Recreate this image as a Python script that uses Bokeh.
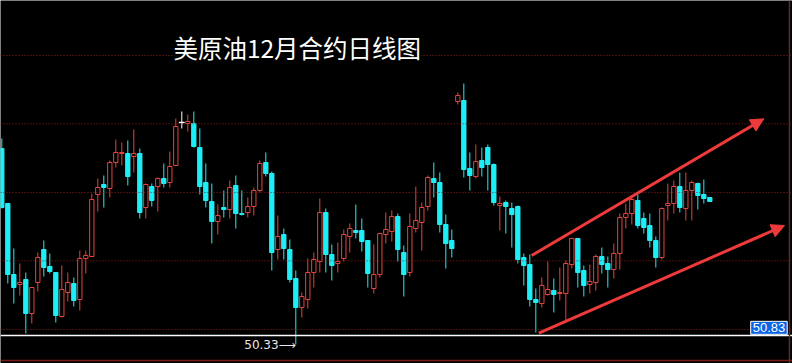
from bokeh.plotting import figure
from bokeh.models import Range1d, Span, Label, Arrow, NormalHead, ColumnDataSource
from bokeh.embed import file_html
from bokeh.resources import INLINE

# Daily OHLC of the December crude oil contract
opens = [56.21, 54.56, 52.43, 52.13, 52.28, 51.26, 52.19, 53.18, 52.67, 52.49,
         51.17, 51.89, 52.16, 51.68, 52.91, 52.97, 54.83, 55.13, 55.01, 55.79,
         56.06, 56.06, 55.97, 56.06, 54.44, 55.07, 55.07, 55.31, 55.19, 55.70,
         56.99, 56.96, 56.96, 56.24, 55.19, 54.62, 54.02, 54.44, 54.38, 55.10,
         54.26, 54.29, 54.47, 54.95, 55.79, 55.46, 53.18, 53.63, 53.18, 52.31,
         51.44, 51.68, 52.49, 52.82, 54.29, 53.03, 52.76, 52.91, 53.57, 53.75,
         53.75, 53.45, 52.01, 52.43, 53.63, 53.72, 54.17, 53.09, 52.49, 53.81,
         53.99, 54.47, 55.31, 55.19, 53.93, 53.45, 57.62, 57.65, 55.61, 55.37,
         55.85, 56.24, 55.73, 54.50, 54.59, 54.41, 54.47, 52.94, 52.73, 51.68,
         51.56, 51.83, 51.95, 51.86, 51.86, 52.73, 53.51, 52.55, 52.13, 52.19,
         52.97, 52.76, 52.58, 53.06, 54.14, 54.26, 54.65, 54.11, 53.90, 53.45,
         52.94, 54.50, 54.56, 55.07, 54.41, 54.95, 55.16, 54.83, 54.74]
highs = [56.51, 54.56, 53.21, 52.76, 52.49, 52.04, 53.09, 53.45, 53.06, 52.49,
         52.70, 52.49, 52.34, 53.15, 53.15, 54.86, 55.31, 55.40, 55.85, 56.48,
         56.39, 56.45, 56.78, 56.21, 55.16, 55.16, 55.34, 55.76, 56.12, 57.11,
         57.32, 57.23, 57.32, 56.81, 55.76, 55.16, 54.53, 54.95, 55.25, 55.40,
         54.95, 54.74, 55.04, 55.85, 56.09, 55.52, 54.20, 53.81, 53.48, 52.55,
         51.89, 52.91, 53.09, 54.71, 54.41, 53.33, 53.39, 53.78, 53.96, 54.53,
         54.11, 53.45, 53.33, 53.66, 54.29, 54.35, 54.26, 53.30, 54.26, 55.07,
         54.59, 55.40, 55.79, 55.49, 54.23, 53.78, 57.89, 58.16, 56.09, 56.33,
         56.24, 56.33, 55.76, 54.77, 54.65, 54.59, 54.50, 53.06, 53.03, 52.01,
         52.34, 52.82, 52.31, 52.64, 52.85, 53.51, 53.51, 52.70, 52.73, 53.03,
         53.24, 52.97, 53.36, 54.26, 54.56, 54.80, 54.83, 54.29, 54.26, 53.57,
         54.44, 55.16, 55.25, 55.49, 55.49, 55.25, 55.19, 55.28, 54.74]
lows = [54.41, 52.16, 51.56, 51.80, 50.66, 50.96, 51.92, 52.37, 52.46, 50.99,
        51.14, 51.62, 51.47, 51.35, 52.46, 52.97, 54.32, 54.44, 54.74, 55.64,
        55.70, 55.10, 55.49, 54.11, 54.11, 54.47, 54.32, 55.04, 55.04, 55.70,
        56.81, 56.72, 56.24, 54.83, 54.44, 53.36, 53.63, 54.14, 54.11, 53.81,
        54.20, 54.14, 54.20, 54.89, 55.37, 52.55, 52.88, 52.88, 52.19, 50.33,
        51.14, 51.41, 52.04, 52.49, 52.49, 52.25, 52.49, 52.82, 53.09, 53.51,
        53.12, 52.04, 51.86, 52.34, 53.36, 53.42, 52.82, 51.77, 52.37, 53.69,
        53.15, 54.35, 54.74, 53.69, 52.61, 52.94, 57.53, 55.34, 54.95, 55.31,
        55.37, 54.95, 54.50, 53.75, 53.66, 53.24, 52.76, 52.10, 51.47, 50.69,
        51.44, 51.80, 51.29, 51.65, 51.05, 52.61, 52.04, 51.77, 51.86, 51.95,
        52.46, 52.04, 52.31, 52.58, 53.81, 53.93, 53.81, 53.66, 53.24, 52.64,
        52.88, 54.05, 54.26, 54.29, 54.05, 54.05, 54.38, 54.56, 54.62]
closes = [54.44, 52.43, 52.04, 52.19, 51.26, 52.04, 52.94, 52.64, 52.52, 51.20,
          51.98, 52.19, 51.65, 52.91, 53.00, 54.68, 55.04, 55.04, 55.79, 56.09,
          56.09, 55.37, 56.06, 54.29, 55.13, 54.65, 55.31, 55.16, 55.67, 56.87,
          56.99, 57.02, 56.27, 55.07, 54.65, 54.02, 54.20, 54.38, 55.04, 54.26,
          54.23, 54.47, 54.95, 55.76, 55.46, 53.09, 53.57, 53.21, 52.28, 51.44,
          51.77, 52.49, 52.88, 54.29, 53.03, 52.70, 52.82, 53.63, 53.81, 53.69,
          53.42, 52.46, 52.43, 53.66, 53.78, 54.17, 53.18, 52.43, 53.87, 54.05,
          54.44, 55.34, 55.19, 53.93, 53.36, 53.21, 57.80, 55.58, 55.40, 55.82,
          55.64, 55.73, 54.59, 54.56, 54.47, 54.23, 52.88, 52.70, 51.68, 51.59,
          52.10, 51.98, 51.83, 51.89, 52.76, 53.51, 52.49, 52.10, 52.22, 52.97,
          52.73, 52.58, 53.06, 54.14, 54.26, 54.68, 53.90, 53.84, 53.45, 52.94,
          54.41, 54.56, 55.07, 54.44, 54.95, 55.19, 54.80, 54.71, 54.62]

# Horizontal reference levels and the price tag on the right edge
grid_levels = [50.78, 52.84, 54.89, 56.95, 59.00]
tag_price = 50.83

# Rising channel drawn over the last leg: (day, price) pairs
channel_upper = [(88.3, 53.00), (127.0, 57.10)]
channel_lower = [(89.5, 50.67), (130.45, 53.90)]

UP = "#e2443f"
DOWN = "#1eeef6"
FLAT = "#ffffff"
GRID = "#8f1d1d"
ARROW = "#ee3a3a"

days = list(range(len(opens)))

p = figure(width=792, height=363, output_backend="svg", toolbar_location=None,
           x_axis_location=None, y_axis_location=None,
           x_range=Range1d(-0.217, 131.78), y_range=Range1d(49.76, 60.65),
           background_fill_color="black", border_fill_color="black",
           outline_line_color=None, min_border=0)
p.grid.visible = False

for lvl in grid_levels:
    p.add_layout(Span(location=lvl, dimension="width", line_color=GRID,
                      line_width=1, line_dash="1 2"))

# frame lines
p.add_layout(Span(location=50.60, dimension="width", line_color="white", line_width=1.5))
p.add_layout(Span(location=49.85, dimension="width", line_color="#7a1c1c", line_width=1.5))
p.add_layout(Span(location=131.28, dimension="height", line_color="#5a2c2c", line_width=1.5))

def pick(cond):
    idx = [i for i in days if cond(opens[i], closes[i])]
    return ColumnDataSource(dict(
        x=[days[i] for i in idx],
        o=[opens[i] for i in idx],
        h=[highs[i] for i in idx],
        l=[lows[i] for i in idx],
        c=[closes[i] for i in idx],
    ))

up = pick(lambda o, c: c > o)
down = pick(lambda o, c: c < o)
flat = pick(lambda o, c: c == o)

# wicks
p.segment("x", "h", "x", "l", source=up, line_color=UP, line_width=1)
p.segment("x", "h", "x", "l", source=down, line_color=DOWN, line_width=1)
p.segment("x", "h", "x", "l", source=flat, line_color=FLAT, line_width=1)

# bodies: rising days hollow red, falling days solid cyan
p.vbar(x="x", width=0.72, top="c", bottom="o", source=up,
       fill_color="black", line_color=UP, line_width=1)
p.vbar(x="x", width=0.72, top="o", bottom="c", source=down,
       fill_color=DOWN, line_color=DOWN, line_width=1)
p.rect(x="x", y="o", width=0.8, height=0.001, source=flat,
       fill_color=FLAT, line_color=FLAT, line_width=1.5)

# channel arrows
for (x0, y0), (x1, y1) in (channel_upper, channel_lower):
    p.add_layout(Arrow(x_start=x0, y_start=y0, x_end=x1, y_end=y1,
                       line_color=ARROW, line_width=3,
                       end=NormalHead(size=13, fill_color=ARROW, line_color=ARROW)))

# lowest low marker
low_idx = min(days, key=lambda i: lows[i])
p.add_layout(Label(x=days[low_idx], y=lows[low_idx], text=f"{lows[low_idx]:.2f}\u27f6",
                   text_align="right", text_baseline="middle",
                   text_color="#e6e6e6", text_font="DejaVu Sans",
                   text_font_size="12px"))

# price tag at the right edge
p.add_layout(Label(x=130.9, y=tag_price, text=f"{tag_price:.2f}",
                   text_align="right", text_baseline="middle",
                   text_color="white", text_font="Liberation Sans",
                   text_font_size="13px",
                   background_fill_color="#0a64e6",
                   border_line_color="white", border_line_width=1,
                   padding=2))

# chart title
p.add_layout(Label(x=28.6, y=59.24, text="美原油12月合约日线图",
                   text_align="left", text_baseline="middle",
                   text_color="white", text_font="Noto Sans CJK SC",
                   text_font_size="24.5px", background_fill_color="black"))

open("out.html", "w").write(file_html(p, INLINE))
